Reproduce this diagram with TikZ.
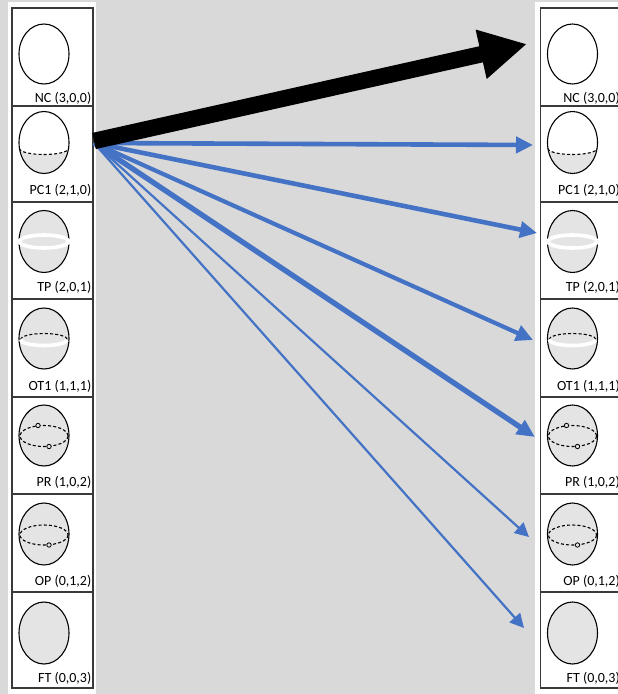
\documentclass[tikz,border=0pt]{standalone}
\usepackage{fontspec}
\setmainfont{Carlito}
\usetikzlibrary{arrows.meta}
\definecolor{panel}{HTML}{D9D9D9}
\definecolor{flow}{HTML}{4472C4}
\definecolor{sphgray}{HTML}{E4E4E4}
\definecolor{rule}{HTML}{3A3A3A}

\tikzset{
  outline/.style={draw=black, line width=1.1},
  equator/.style={draw=black, line width=1.1, dash pattern=on 3pt off 2.2pt},
  band/.style={draw=white, line width=3.6},
  hole/.style={draw=black, fill=sphgray, line width=0.8},
  lab/.style={font=\fontsize{14}{16}\selectfont, inner sep=0pt, anchor=base east},
  grid/.style={draw=rule, line width=1.2},
  flowarrow/.style={draw=flow, line cap=butt, -{Triangle[length=17pt,width=16pt]}},
  thinarrow/.style={draw=flow, line cap=butt, line width=2.2, -{Triangle[length=14pt,width=14pt]}},
  % sphere glyphs, drawn around their centre
  pics/nc/.style={code={
    \draw[outline, fill=white] (0,0) ellipse [x radius=25, y radius=30];
  }},
  pics/pc/.style={code={
    \fill[white] (0,0) ellipse [x radius=25, y radius=31];
    \begin{scope}
      \clip (0,0) ellipse [x radius=25, y radius=31];
      \fill[sphgray] (-24.6,6) arc [start angle=180, end angle=0, x radius=24.6, y radius=6]
        -- (30,6) -- (30,40) -- (-30,40) -- (-30,6) -- cycle;
    \end{scope}
    \draw[equator] (-24.6,6) arc [start angle=180, end angle=0, x radius=24.6, y radius=6];
    \draw[outline] (0,0) ellipse [x radius=25, y radius=31];
  }},
  pics/tp/.style={code={
    \draw[outline, fill=sphgray] (0,0) ellipse [x radius=25, y radius=31];
    \draw[band, fill=sphgray] (0,0) ellipse [x radius=24.5, y radius=6.5];
  }},
  pics/ot/.style={code={
    \draw[outline, fill=sphgray] (0,0) ellipse [x radius=25, y radius=30.5];
    \draw[equator] (-23.5,1) arc [start angle=180, end angle=360, x radius=23.5, y radius=6];
    \draw[band] (-23.5,1) arc [start angle=180, end angle=8, x radius=23.5, y radius=6];
  }},
  pics/pr/.style={code={
    \draw[outline, fill=sphgray] (0,0) ellipse [x radius=25, y radius=30.5];
    \draw[equator] (0,0.5) ellipse [x radius=24, y radius=10.5];
    \draw[hole] (-6,-10) circle [radius=2.2];
    \draw[hole] (5,11) circle [radius=2.2];
  }},
  pics/op/.style={code={
    \draw[outline, fill=sphgray] (0,0) ellipse [x radius=25, y radius=31];
    \draw[equator] (0,1) ellipse [x radius=24, y radius=10];
    \draw[hole] (5,11) circle [radius=2.2];
  }},
  pics/ft/.style={code={
    \draw[outline, fill=sphgray] (0,0) ellipse [x radius=25, y radius=31];
  }},
}

\begin{document}
\begin{tikzpicture}[x=1pt, y=-1pt]
\useasboundingbox (0,0) rectangle (618,694);
\fill[panel] (0,0) rectangle (618,694);
\fill[white] (8,2) rectangle (96,694);
\fill[white] (535,2) rectangle (618,694);

% two identical state columns: before (left) and after (right)
\foreach \dx/\side in {0/L, 528.5/R} {
  \begin{scope}[xshift=\dx]
    \draw[grid] (12,8) rectangle (93,688);
    \foreach \yy in {106,202,299,397,494,592}
      \draw[grid] (12,\yy) -- (93,\yy);
    \pic at (44,54) {nc};
    \pic at (44,142.5) {pc};
    \pic at (44,241.5) {tp};
    \pic at (44,338.5) {ot};
    \pic at (44,435.5) {pr};
    \pic at (44,534) {op};
    \pic at (44,633) {ft};
    \node[lab] (nc\side)  at (91.5,102.5) {NC (3,0,0)};
    \node[lab] (pc\side)  at (91.5,194.5) {PC1 (2,1,0)};
    \node[lab] (tp\side)  at (91.5,291.5) {TP (2,0,1)};
    \node[lab] (ot\side)  at (91.5,390)   {OT1 (1,1,1)};
    \node[lab] (pr\side)  at (91.5,486)   {PR (1,0,2)};
    \node[lab] (op\side)  at (91.5,585)   {OP (0,1,2)};
    \node[lab] (ft\side)  at (91.5,682.5) {FT (0,0,3)};
  \end{scope}
}

% transitions out of PC1
\coordinate (src)  at (94,143);
\coordinate (srcK) at (94,141);
\coordinate (toNC) at (527,44);
\coordinate (toPC) at (533,145);
\coordinate (toTP) at (537,233);
\coordinate (toOT) at (533,340);
\coordinate (toPR) at (535,437);
\coordinate (toOP) at (529,537);
\coordinate (toFT) at (524,628);

\draw[flowarrow, line width=4.6] (src) -- (toPC);
\draw[flowarrow, line width=4.6] (src) -- (toTP);
\draw[flowarrow, line width=4.2] (src) -- (toOT);
\draw[flowarrow, line width=5.4, -{Triangle[length=18pt,width=16pt]}] (src) -- (toPR);
\draw[thinarrow] (src) -- (toOP);
\draw[thinarrow] (src) -- (toFT);
\draw[line width=16.5, line cap=butt, -{Triangle[length=47pt,width=47pt]}] (srcK) -- (toNC);
\end{tikzpicture}
\end{document}
